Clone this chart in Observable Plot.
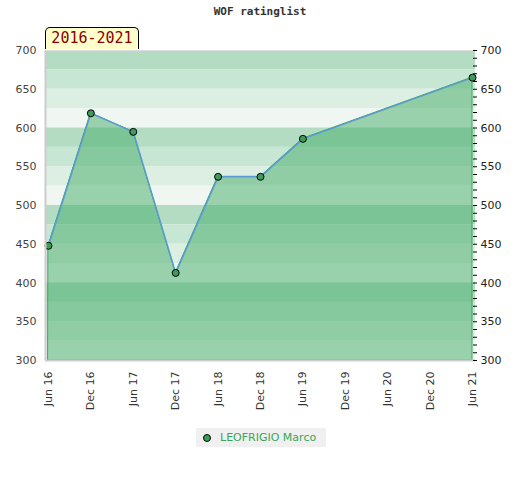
<!DOCTYPE html>
<html>
<head>
<meta charset="utf-8">
<script src="https://cdn.jsdelivr.net/npm/d3@7"></script>
<script src="https://cdn.jsdelivr.net/npm/@observablehq/plot@0.6"></script>
<style>
  body { margin: 0; background: #fff; }
  #wrap { position: relative; width: 520px; height: 480px; }
  #chart { position: absolute; left: 0; top: 0; }
  #title { position: absolute; left: 0; top: 5px; width: 520px; text-align: center;
    font-family: "DejaVu Sans Mono", monospace; font-weight: bold; font-size: 11px; color: #333; }
  #period { position: absolute; left: 45px; top: 27px; width: 94px; height: 22px; box-sizing: border-box;
    background: #ffffcc; border: 1px solid #000; border-bottom: none; border-radius: 5px 5px 0 0;
    font-family: "DejaVu Sans Mono", monospace; font-size: 15px; color: #8b0000;
    line-height: 21px; text-align: center; }
  #legend { position: absolute; left: 196px; top: 428px; width: 130px; height: 19px;
    background: #f0f0f0; font-family: "DejaVu Sans", sans-serif; font-size: 11px; color: #3aa655;
    line-height: 19px; }
  #legend .dot { position: absolute; left: 7px; top: 6px; width: 6px; height: 6px; border-radius: 50%;
    background: #3a9e5a; border: 1px solid #000; }
  #legend .lbl { position: absolute; left: 24px; top: 0; }
</style>
</head>
<body>
<div id="wrap">
  <div id="chart"></div>
  <div id="title">WOF ratinglist</div>
  <div id="period">2016-2021</div>
  <div id="legend"><span class="dot"></span><span class="lbl">LEOFRIGIO Marco</span></div>
</div>
<script>
const periods = ["Jun 16","Dec 16","Jun 17","Dec 17","Jun 18","Dec 18","Jun 19","Dec 19","Jun 20","Dec 20","Jun 21"];
const ratedPeriods = ["Jun 16","Dec 16","Jun 17","Dec 17","Jun 18","Dec 18","Jun 19","Jun 21"];
const ratings = [448, 619, 595, 413, 537, 537, 586, 665];
const yTicks = [300, 350, 400, 450, 500, 550, 600, 650, 700];
const yMin = 300, yMax = 700;
const stripeColors = ["#b3dcc2", "#c8e6d4", "#ddeee3", "#f0f7f2"];
const playerName = "LEOFRIGIO Marco";

const data = ratedPeriods.map((p, k) => ({i: periods.indexOf(p), period: p, rating: ratings[k]}));
const stripes = d3.range(yMax, yMin, -25).map((top, k) => ({y2: top, y1: top - 25, c: stripeColors[k % 4]}));
const minorTicks = d3.range(yMin, yMax + 1, 10);

const plot = Plot.plot({
  width: 520,
  height: 410,
  marginLeft: 45,
  marginRight: 45,
  marginTop: 50,
  marginBottom: 50,
  style: {fontFamily: "DejaVu Sans, sans-serif", fontSize: "11px", color: "#444", background: "transparent"},
  x: {domain: [-0.07, periods.length - 1 + 0.07], label: null},
  y: {domain: [yMin, yMax], label: null},
  marks: [
    Plot.rect(stripes, {y1: "y1", y2: "y2", fill: d => d.c}),
    Plot.areaY(data, {x: "i", y1: () => yMin, y2: "rating", fill: "#43ac68", fillOpacity: 0.5, stroke: "#3aa655", strokeWidth: 1}),
    Plot.line(data, {x: "i", y: "rating", stroke: "#5b9bd5", strokeWidth: 1.5}),
    Plot.dot(data, {x: "i", y: "rating", r: 3.5, fill: "#3a9e5a", stroke: "#000", strokeWidth: 1}),
    Plot.ruleX([-0.07], {stroke: "#cccccc", strokeWidth: 2}),
    Plot.ruleY([yMin], {stroke: "#cccccc", strokeWidth: 2}),
    Plot.ruleY([yMax], {stroke: "#dddddd", strokeWidth: 1}),
    Plot.axisY(yTicks, {anchor: "left", tickSize: 0, tickPadding: 9, fill: "#444", label: null}),
    Plot.axisY(minorTicks, {anchor: "right", tickSize: 4, text: null, stroke: "#000", dx: -3, label: null}),
    Plot.axisY(yTicks, {anchor: "right", tickSize: 0, tickPadding: 5, fill: "#222", label: null}),
    Plot.axisX(d3.range(periods.length), {anchor: "bottom", tickSize: 0, tickPadding: 11, tickRotate: -90,
      tickFormat: i => periods[i], fill: "#333", label: null})
  ]
});
document.getElementById("chart").appendChild(plot);
</script>
</body>
</html>
